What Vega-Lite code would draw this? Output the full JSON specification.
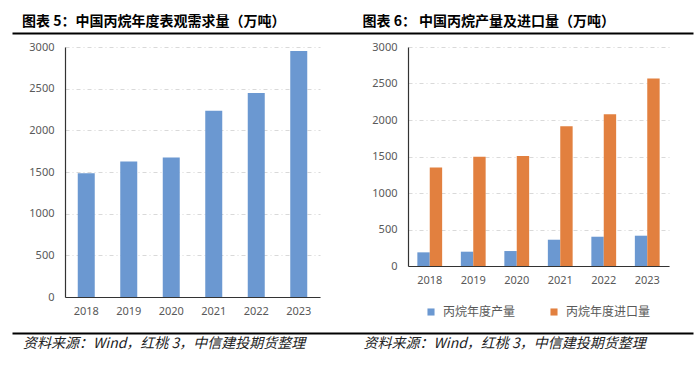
{
  "$schema": "https://vega.github.io/schema/vega-lite/v6.json",
  "background": "white",
  "padding": {"left": 12, "top": 14, "right": 2, "bottom": 2},
  "config": {
    "view": {"stroke": null},
    "font": "Noto Sans CJK SC",
    "axis": {
      "labelFont": "Noto Sans",
      "labelFontSize": 11,
      "labelColor": "#595959",
      "ticks": false,
      "domainColor": "#333333",
      "domainWidth": 1.2,
      "gridColor": "#D9D9D9",
      "gridDash": [4, 3, 1, 3],
      "gridWidth": 1
    }
  },
  "spacing": 8,
  "resolve": {"scale": {"color": "independent"}, "legend": {"color": "independent"}},
  "vconcat": [
    {
      "width": 681,
      "height": 1,
      "data": {"values": [
        {"p": "a", "t": "图表 5：中国丙烷年度表观需求量（万吨）"},
        {"p": "b", "t": "图表 6： 中国丙烷产量及进口量（万吨）"}
      ]},
      "mark": {"type": "text", "align": "left", "baseline": "bottom", "dx": 10, "dy": -4, "fontSize": 14, "fontWeight": "bold", "font": "Noto Sans CJK SC", "color": "#000000"},
      "encoding": {
        "x": {"field": "p", "type": "nominal", "title": null,
          "scale": {"type": "band", "paddingInner": 0, "paddingOuter": 0}, "bandPosition": 0,
          "axis": {"orient": "bottom", "labels": false, "ticks": false, "grid": false, "domain": true, "domainColor": "#000000", "domainWidth": 2}},
        "text": {"field": "t"}
      }
    },
    {
      "spacing": 15,
      "resolve": {"scale": {"color": "independent"}, "legend": {"color": "independent"}},
      "vconcat": [
        {
          "columns": 3,
          "spacing": 0,
          "align": "each",
          "resolve": {"scale": {"color": "independent"}, "legend": {"color": "independent"}},
          "concat": [
            {
              "width": 1,
              "height": 1,
              "data": {"values": []},
              "mark": {"type": "text"},
              "encoding": {}
            },
            {
              "width": 255,
              "height": 250,
              "data": {"values": [
                {"year": "2018", "value": 1484},
                {"year": "2019", "value": 1625},
                {"year": "2020", "value": 1673},
                {"year": "2021", "value": 2236},
                {"year": "2022", "value": 2448},
                {"year": "2023", "value": 2952}
              ]},
              "mark": {"type": "bar", "color": "#6B98D1"},
              "encoding": {
                "x": {"field": "year", "type": "nominal", "title": null,
                  "scale": {"paddingInner": 0.6, "paddingOuter": 0.3},
                  "axis": {"labelAngle": 0, "grid": false, "labelPadding": 8}},
                "y": {"field": "value", "type": "quantitative", "title": null,
                  "scale": {"domain": [0, 3000], "nice": false},
                  "axis": {"values": [0, 500, 1000, 1500, 2000, 2500, 3000], "format": "d", "labelPadding": 11, "minExtent": 52, "maxExtent": 52}}
              }
            },
            {
              "width": 261,
              "height": 219,
              "data": {"values": [
                {"year": "2018", "series": "丙烷年度产量", "value": 187},
                {"year": "2018", "series": "丙烷年度进口量", "value": 1349},
                {"year": "2019", "series": "丙烷年度产量", "value": 196},
                {"year": "2019", "series": "丙烷年度进口量", "value": 1495},
                {"year": "2020", "series": "丙烷年度产量", "value": 205},
                {"year": "2020", "series": "丙烷年度进口量", "value": 1508},
                {"year": "2021", "series": "丙烷年度产量", "value": 360},
                {"year": "2021", "series": "丙烷年度进口量", "value": 1914},
                {"year": "2022", "series": "丙烷年度产量", "value": 401},
                {"year": "2022", "series": "丙烷年度进口量", "value": 2078},
                {"year": "2023", "series": "丙烷年度产量", "value": 415},
                {"year": "2023", "series": "丙烷年度进口量", "value": 2570}
              ]},
              "mark": {"type": "bar"},
              "encoding": {
                "x": {"field": "year", "type": "nominal", "title": null,
                  "scale": {"paddingInner": 0.43, "paddingOuter": 0.215},
                  "axis": {"labelAngle": 0, "grid": false, "labelPadding": 8}},
                "xOffset": {"field": "series", "type": "nominal", "sort": ["丙烷年度产量", "丙烷年度进口量"]},
                "y": {"field": "value", "type": "quantitative", "title": null,
                  "scale": {"domain": [0, 3000], "nice": false},
                  "axis": {"values": [0, 500, 1000, 1500, 2000, 2500, 3000], "format": "d", "labelPadding": 11, "minExtent": 88, "maxExtent": 88}},
                "color": {"field": "series", "type": "nominal",
                  "scale": {"domain": ["丙烷年度产量", "丙烷年度进口量"], "range": ["#6B98D1", "#E2803F"]},
                  "legend": {"orient": "bottom", "direction": "horizontal", "title": null, "symbolType": "square", "symbolSize": 50, "symbolOffset": 17, "labelOffset": 6, "labelFontSize": 12, "labelColor": "#595959", "labelFont": "Noto Sans CJK SC", "columnPadding": 15, "offset": 21}}
              }
            }
          ]
        },
        {
          "width": 681,
          "height": 1,
          "data": {"values": [
            {"p": "a", "t": "资料来源：Wind，红桃 3，中信建投期货整理"},
            {"p": "b", "t": "资料来源：Wind，红桃 3，中信建投期货整理"}
          ]},
          "mark": {"type": "text", "align": "left", "baseline": "top", "dx": 11, "dy": 3, "fontSize": 14, "fontStyle": "italic", "font": "Noto Sans CJK SC", "color": "#222222"},
          "encoding": {
            "x": {"field": "p", "type": "nominal", "title": null,
              "scale": {"type": "band", "paddingInner": 0, "paddingOuter": 0}, "bandPosition": 0,
              "axis": {"orient": "top", "labels": false, "ticks": false, "grid": false, "domain": true, "domainColor": "#000000", "domainWidth": 2}},
            "text": {"field": "t"}
          }
        }
      ]
    }
  ]
}
